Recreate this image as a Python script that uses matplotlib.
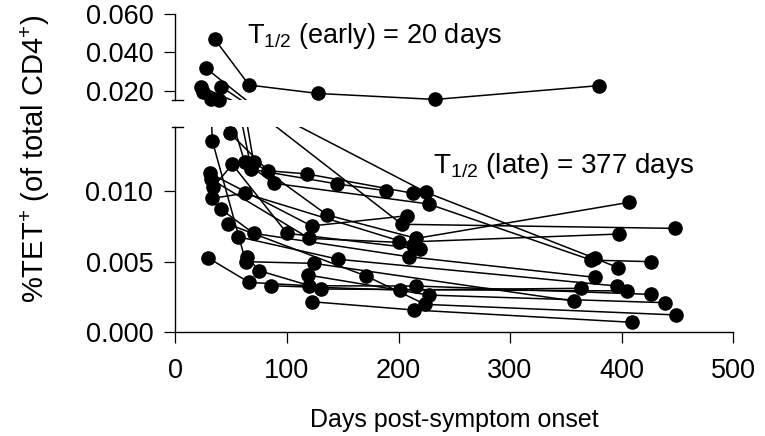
import matplotlib
matplotlib.use("Agg")
import matplotlib.pyplot as plt
import numpy as np

plt.rcParams["font.family"] = ["Liberation Sans", "DejaVu Sans"]
plt.rcParams["mathtext.fontset"] = "custom"
plt.rcParams["mathtext.rm"] = "Liberation Sans"
plt.rcParams["mathtext.it"] = "Liberation Sans:italic"
plt.rcParams["mathtext.bf"] = "Liberation Sans:bold"

# one list per subject: days post-symptom onset and %TET+ of total CD4+
# (values falling in the axis break are not drawn as dots)
subject_days = [
    [35, 66, 128, 233, 380],
    [27, 70, 136, 216, 407],
    [41, 68, 145, 189],
    [24.5, 32, 33, 63, 124, 357],
    [39, 49, 83, 118, 213],
    [23, 62, 88, 227, 373, 426],
    [88, 203, 448],
    [108, 225, 376, 397],
    [31, 122, 208],
    [32, 120, 200, 398],
    [34, 51, 100, 219],
    [33, 62, 213],
    [41, 70, 209, 376],
    [47, 171, 224, 449],
    [56, 146, 396],
    [29, 66, 120, 216, 426],
    [64, 75, 130.5, 405],
    [119, 227, 439],
    [86, 201, 364],
    [122, 214, 409],
]
subject_tet = [
    [0.047, 0.023, 0.0186, 0.0155, 0.0227],
    [0.0319, 0.01208, 0.0083, 0.00664, 0.0092],
    [0.0221, 0.01154, 0.0105, 0.01002],
    [0.0195, 0.0156, 0.01357, 0.00499, 0.00487, 0.0022],
    [0.0154, 0.01409, 0.01144, 0.01121, 0.00984],
    [0.0221, 0.01208, 0.01055, 0.00908, 0.0051, 0.00499],
    [0.0147, 0.00764, 0.00735],
    [0.0147, 0.0099, 0.00523, 0.00456],
    [0.01125, 0.00752, 0.00825],
    [0.01083, 0.00664, 0.00636, 0.00695],
    [0.0103, 0.01189, 0.0070, 0.00589],
    [0.00948, 0.00984, 0.00617],
    [0.0087, 0.0070, 0.00534, 0.00388],
    [0.00766, 0.00397, 0.00196, 0.00121],
    [0.00676, 0.00516, 0.00326],
    [0.00527, 0.00352, 0.00328, 0.00326, 0.00267],
    [0.00534, 0.00435, 0.00305, 0.00291],
    [0.00404, 0.00262, 0.00208],
    [0.00328, 0.00298, 0.0031],
    [0.00215, 0.00156, 0.00069],
]

x_ticks = [0, 100, 200, 300, 400, 500]
low_ticks = [0.0, 0.005, 0.010]
high_ticks = [0.020, 0.040, 0.060]
low_range = (0.0, 0.01454)
high_range = (0.0152, 0.060)

fig = plt.figure(figsize=(7.65, 4.36), dpi=100)
ax_lo = fig.add_axes([0.2294, 0.2385, 0.7288, 0.4702])
ax_hi = fig.add_axes([0.2294, 0.7706, 0.7288, 0.1973])

for ax, (ymin, ymax) in ((ax_lo, low_range), (ax_hi, high_range)):
    for d, v in zip(subject_days, subject_tet):
        d = np.asarray(d, dtype=float)
        v = np.asarray(v, dtype=float)
        ax.plot(d, v, color="black", lw=1.1, zorder=2)
        keep = (v >= ymin) & (v <= ymax)
        ax.plot(d[keep], v[keep], "o", ms=9.5, color="black",
                ls="none", clip_on=False, zorder=3)
    ax.set_xlim(0, 500)
    ax.set_ylim(ymin, ymax)
    for side in ("top", "right"):
        ax.spines[side].set_visible(False)
    ax.spines["left"].set_linewidth(1.0)
    ax.tick_params(axis="both", direction="out", length=8, width=0.9,
                   labelsize=19.5, pad=8)

ax_lo.set_yticks(low_ticks)
ax_lo.set_yticklabels([f"{t:.3f}" for t in low_ticks])
ax_lo.set_xticks(x_ticks)
ax_lo.tick_params(axis="x", pad=11)
ax_lo.spines["bottom"].set_linewidth(1.0)

ax_hi.set_yticks(high_ticks)
ax_hi.set_yticklabels([f"{t:.3f}" for t in high_ticks])
ax_hi.spines["bottom"].set_visible(False)
ax_hi.set_xticks([])

# break caps on the y axis
ax_hi.plot([-0.007, 0.014], [0, 0], transform=ax_hi.transAxes,
           color="black", lw=1.0, clip_on=False)
ax_lo.plot([-0.007, 0.014], [1, 1], transform=ax_lo.transAxes,
           color="black", lw=1.0, clip_on=False)

ax_lo.set_xlabel("Days post-symptom onset", fontsize=18, labelpad=17)
fig.text(35 / 765, 1 - 159 / 436, "%TET$^{+}$ (of total CD4$^{+}$)",
         rotation=90, ha="center", va="center", fontsize=21)

fig.text(247 / 765, 1 - 36 / 436, "T$_{1/2}$ (early) = 20 days",
         ha="left", va="center", fontsize=19.5)
fig.text(433 / 765, 1 - 166 / 436, "T$_{1/2}$ (late) = 377 days",
         ha="left", va="center", fontsize=20)

fig.savefig("out.png", dpi=100)
